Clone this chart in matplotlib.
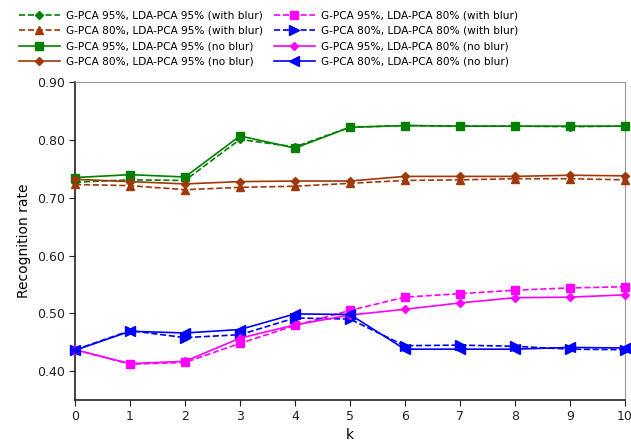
import matplotlib
matplotlib.use("Agg")
import matplotlib.pyplot as plt

k = list(range(11))

g95_l95_blur = [0.727, 0.731, 0.730, 0.801, 0.788, 0.822, 0.825, 0.824, 0.824, 0.823, 0.824]
g80_l95_blur = [0.723, 0.721, 0.714, 0.718, 0.720, 0.725, 0.730, 0.731, 0.733, 0.733, 0.731]
g95_l95_noblur = [0.735, 0.740, 0.736, 0.807, 0.786, 0.822, 0.825, 0.824, 0.824, 0.824, 0.824]
g80_l95_noblur = [0.732, 0.728, 0.724, 0.728, 0.729, 0.729, 0.737, 0.737, 0.737, 0.739, 0.738]
g95_l80_blur = [0.437, 0.412, 0.415, 0.448, 0.479, 0.505, 0.528, 0.534, 0.540, 0.544, 0.546]
g80_l80_blur = [0.437, 0.470, 0.458, 0.463, 0.492, 0.490, 0.444, 0.445, 0.443, 0.438, 0.437]
g95_l80_noblur = [0.437, 0.413, 0.417, 0.457, 0.480, 0.497, 0.507, 0.518, 0.527, 0.528, 0.532]
g80_l80_noblur = [0.436, 0.469, 0.466, 0.472, 0.499, 0.498, 0.438, 0.438, 0.438, 0.441, 0.440]

labels = [
    "G-PCA 95%, LDA-PCA 95% (with blur)",
    "G-PCA 80%, LDA-PCA 95% (with blur)",
    "G-PCA 95%, LDA-PCA 95% (no blur)",
    "G-PCA 80%, LDA-PCA 95% (no blur)",
    "G-PCA 95%, LDA-PCA 80% (with blur)",
    "G-PCA 80%, LDA-PCA 80% (with blur)",
    "G-PCA 95%, LDA-PCA 80% (no blur)",
    "G-PCA 80%, LDA-PCA 80% (no blur)",
]
yticks = [0.40, 0.50, 0.60, 0.70, 0.80, 0.90]

GREEN = "#008000"
BROWN = "#a0380b"
MAGENTA = "#ff00ff"
BLUE = "#0000ff"

series = [
    (g95_l95_blur, GREEN, "--", "D", 4.5),
    (g80_l95_blur, BROWN, "--", "^", 6),
    (g95_l95_noblur, GREEN, "-", "s", 5.5),
    (g80_l95_noblur, BROWN, "-", "D", 4.5),
    (g95_l80_blur, MAGENTA, "--", "s", 6),
    (g80_l80_blur, BLUE, "--", ">", 6.5),
    (g95_l80_noblur, MAGENTA, "-", "D", 4.5),
    (g80_l80_noblur, BLUE, "-", "<", 6.5),
]

plt.rcParams["font.family"] = ["DejaVu Sans"]
fig = plt.figure(figsize=(6.31, 4.42), dpi=100)
ax = fig.add_axes([0.119, 0.095, 0.871, 0.719])

for (vals, col, ls, mk, ms), lab in zip(series, labels):
    ax.plot(k, vals, color=col, linestyle=ls, marker=mk, markersize=ms,
            linewidth=1.2, label=lab, clip_on=False, zorder=3)

ax.set_xlim(0, 10)
ax.set_ylim(0.35, 0.90)
ax.set_xticks(k)
ax.set_yticks(yticks)
ax.set_yticklabels([f"{v:.2f}" for v in yticks])
ax.tick_params(labelsize=9, colors="#222222", length=4)
ax.set_xlabel("k", fontsize=10, labelpad=3)
ax.set_ylabel("Recognition rate", fontsize=10)
ax.spines["left"].set_color("#222222")
ax.spines["bottom"].set_color("#222222")
ax.spines["left"].set_linewidth(1.2)
ax.spines["bottom"].set_linewidth(1.2)
ax.spines["top"].set_color("#999999")
ax.spines["right"].set_color("#999999")

fig.legend(loc="upper left", bbox_to_anchor=(0.018, 0.993), ncol=2, frameon=False,
           fontsize=7.6, handlelength=3.9, labelspacing=0.52, columnspacing=1.0,
           handletextpad=0.6, borderaxespad=0.3)

fig.savefig("out.png", dpi=100)
